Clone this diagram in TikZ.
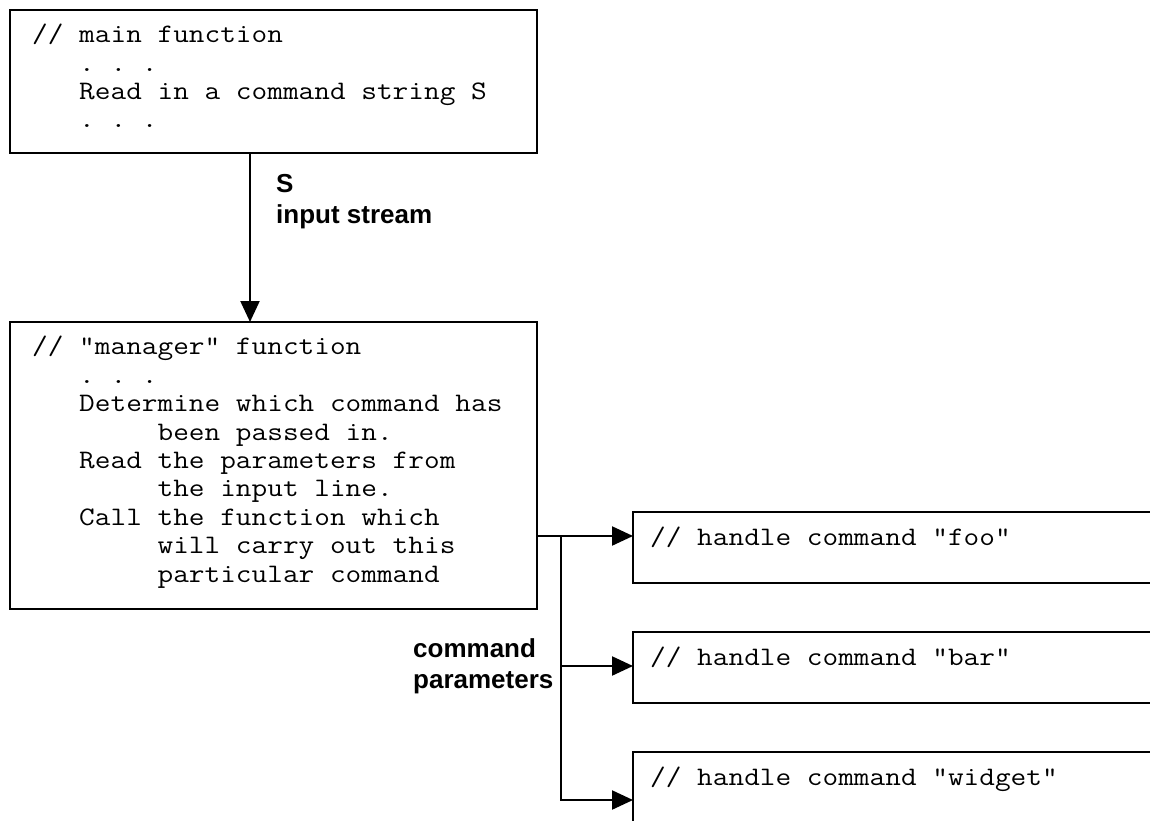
\documentclass[tikz,border=0pt]{standalone}
\usepackage{fontspec}
\setsansfont{Liberation Sans}
\newfontfamily\codefont{Latin Modern Mono}[FakeStretch=1.14]
\usetikzlibrary{arrows.meta}

\tikzset{
    box/.style={draw, line width=2.4pt, rectangle, inner sep=0pt, outer sep=0pt, anchor=north west},
    code/.style={anchor=base west, align=left, inner sep=0pt, font=\codefont\fontsize{26.7}{28.4}\selectfont\frenchspacing},
    lbl/.style={anchor=base west, align=left, inner sep=0pt, font=\sffamily\bfseries\fontsize{26}{31}\selectfont},
    flow/.style={line width=2.2pt, -{Triangle[length=21pt, width=19pt]}},
}

\begin{document}
\begin{tikzpicture}[x=1pt, y=-1pt]
    \useasboundingbox (0, 0) rectangle (1150, 821);
    \clip (0, 0) rectangle (1150, 821);

    % boxes
    \node[box, minimum width=527pt, minimum height=143pt] (main) at (10, 10) {};
    \node[box, minimum width=527pt, minimum height=287pt] (mgr) at (10, 322) {};
    \node[box, minimum width=540pt, minimum height=71pt] (foo) at (633, 512) {};
    \node[box, minimum width=540pt, minimum height=71pt] (bar) at (633, 632) {};
    \node[box, minimum width=540pt, minimum height=100pt] (widget) at (633, 752) {};

    % code in the boxes (anchored at the last line)
    \node[code] (maintext) at (32, 128) {// main function\\~~~. . .\\~~~Read in a command string S\\~~~. . .};
    \node[code] (mgrtext) at (32, 582) {// "manager" function\\
        ~~~. . .\\
        ~~~Determine which command has\\
        ~~~~~~~~been passed in.\\
        ~~~Read the parameters from\\
        ~~~~~~~~the input line.\\
        ~~~Call the function which\\
        ~~~~~~~~will carry out this\\
        ~~~~~~~~particular command};
    \node[code] (footext) at (650, 545) {// handle command "foo"};
    \node[code] (bartext) at (650, 665) {// handle command "bar"};
    \node[code] (widgettext) at (650, 785) {// handle command "widget"};

    % labels
    \node[lbl] (slbl) at (276, 223) {S\\input stream};
    \node[lbl] (cmdlbl) at (413, 688) {command\\parameters};

    % arrows
    \draw[flow] (main.south west) ++(240, 0) coordinate (down) -- (down |- mgr.north);

    \coordinate (split) at (561, 536);
    \coordinate (tbar) at (561, 666);
    \coordinate (bend) at (561, 800);
    \draw[flow] (mgr.east |- split) -- (foo.west |- split);
    \draw[flow] (tbar) -- (bar.west |- tbar);
    \draw[flow] (split) -- (bend) -- (widget.west |- bend);
\end{tikzpicture}
\end{document}
